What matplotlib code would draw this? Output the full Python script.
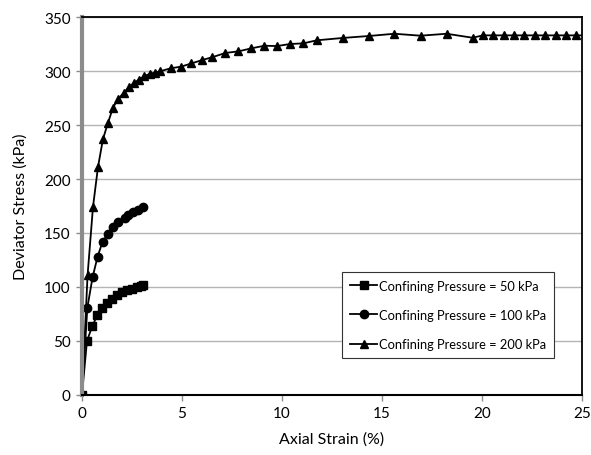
import matplotlib
matplotlib.use("Agg")
import matplotlib.pyplot as plt

plt.rcParams['font.family'] = ['Lato', 'DejaVu Sans']

# confining pressure = 50 kPa
strain_50 = [0, 0.25, 0.52, 0.77, 1.02, 1.27, 1.52, 1.77, 2.02, 2.27, 2.52, 2.77, 2.95, 3.07]
stress_50 = [0, 50, 64, 74, 80.5, 85.5, 89, 92.5, 95, 97, 98.5, 100, 100.8, 102]

# confining pressure = 100 kPa
strain_100 = [0, 0.27, 0.53, 0.78, 1.03, 1.28, 1.53, 1.78, 2.15, 2.3, 2.55, 2.8, 3.05]
stress_100 = [0, 81, 109, 128, 142, 149, 156, 160.5, 163.5, 167, 169.5, 171.5, 174]

# confining pressure = 200 kPa
strain_200 = [0, 0.28, 0.55, 0.8, 1.05, 1.3, 1.55, 1.8, 2.1, 2.35, 2.6, 2.85, 3.1,
              3.4, 3.65, 3.9, 4.43, 4.95, 5.47, 5.98, 6.5, 7.17, 7.82, 8.47,
              9.12, 9.75, 10.4, 11.07, 11.73, 13.03, 14.33, 15.62, 16.93, 18.23,
              19.53, 20.04, 20.56, 21.08, 21.6, 22.12, 22.64, 23.16, 23.68, 24.2,
              24.72, 25.24]
stress_200 = [0, 111, 174, 211, 237, 252, 266, 274, 280, 285, 289, 292, 295,
              297.5, 298.5, 299.7, 302.5, 304, 307, 310, 312.7, 316.7, 318.2, 321,
              323.4, 323.1, 325, 325.6, 328.4, 330.6, 332.4, 334.5, 332.7, 334.5,
              330.8, 333, 333, 333, 333, 333, 333, 333, 333, 333,
              333, 333]

labels = ["Confining Pressure = 50 kPa",
          "Confining Pressure = 100 kPa",
          "Confining Pressure = 200 kPa"]

fig = plt.figure(figsize=(5.91, 4.56), dpi=100)
ax = fig.add_axes([0.1387, 0.1316, 0.8461, 0.8289])

ax.plot(strain_50, stress_50, color='black', lw=1.3, marker='s', ms=6, label=labels[0])
ax.plot(strain_100, stress_100, color='black', lw=1.3, marker='o', ms=6, label=labels[1])
ax.plot(strain_200, stress_200, color='black', lw=1.3, marker='^', ms=6, label=labels[2])

ax.set_xlim(0, 25)
ax.set_ylim(0, 350)
ax.set_xticks(range(0, 26, 5))
ax.set_yticks(range(0, 351, 50))
ax.yaxis.grid(True, color='#b4b4b4', lw=1.0)
ax.set_axisbelow(True)

for s in ['top', 'right']:
    ax.spines[s].set_color('black')
    ax.spines[s].set_linewidth(1.3)
ax.spines['bottom'].set_color('black')
ax.spines['bottom'].set_linewidth(1.5)
ax.spines['left'].set_color('#8c8c8c')
ax.spines['left'].set_linewidth(3)

ax.tick_params(axis='both', direction='out', length=4, width=1, color='#8c8c8c',
               labelsize=11, pad=4)

ax.set_xlabel("Axial Strain (%)", fontsize=11.5, labelpad=8)
ax.set_ylabel("Deviator Stress (kPa)", fontsize=11.5, labelpad=12)

leg = ax.legend(loc='upper left', bbox_to_anchor=(0.521, 0.326),
                fontsize=9.3, handlelength=2.1, handletextpad=0.15,
                labelspacing=1.35, borderpad=0.6, borderaxespad=0,
                fancybox=False, framealpha=1, edgecolor='#333333')
leg.get_frame().set_linewidth(0.8)

fig.savefig("out.png", dpi=100)
